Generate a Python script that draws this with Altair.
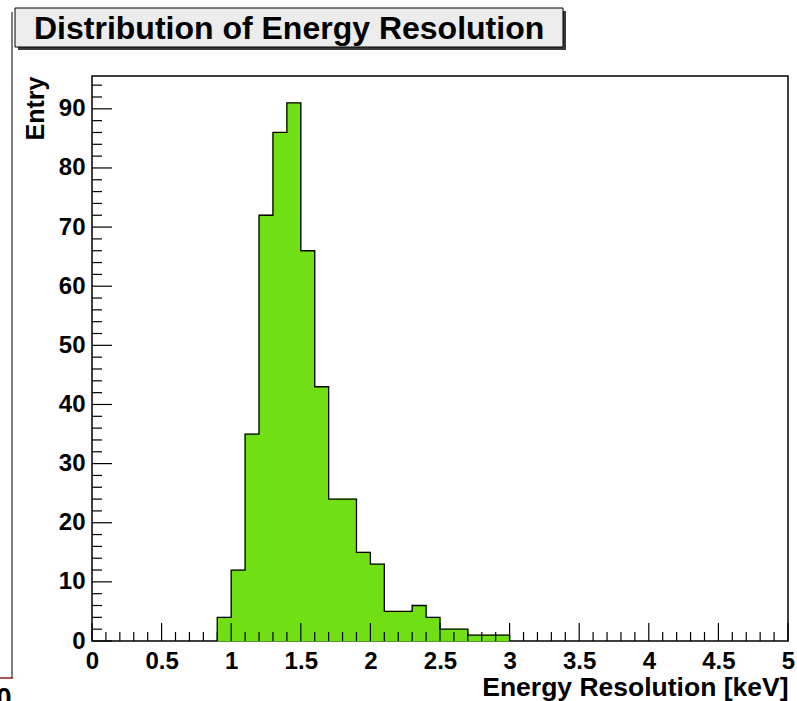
import altair as alt
import pandas as pd

# Histogram of energy resolution, 0.1 keV bins from 0.9 to 3.0 keV
bin_low = [0.9, 1.0, 1.1, 1.2, 1.3, 1.4, 1.5, 1.6, 1.7, 1.8, 1.9,
           2.0, 2.1, 2.2, 2.3, 2.4, 2.5, 2.6, 2.7, 2.8, 2.9]
entries = [4, 12, 35, 72, 86, 91, 66, 43, 24, 24, 15,
           13, 5, 5, 6, 4, 2, 2, 1, 1, 1]
bin_width = 0.1

x_labels = [0, 0.5, 1, 1.5, 2, 2.5, 3, 3.5, 4, 4.5, 5]
y_labels = [0, 10, 20, 30, 40, 50, 60, 70, 80, 90]
x_minor = [round(i * 0.1, 1) for i in range(51)]
y_minor = [i * 2 for i in range(48)]

Y_MAX = 95.55
W, H = 696, 565
FONT = "Liberation Sans"
GREEN = "#70e014"

bars = pd.DataFrame({
    "lo": bin_low,
    "hi": [round(b + bin_width, 1) for b in bin_low],
    "n": entries,
})

# outline of the histogram as one step line
edge_x = [bin_low[0]] + bin_low + [round(bin_low[-1] + bin_width, 1)]
edge_y = [0] + entries + [0]
outline = pd.DataFrame({"x": edge_x, "y": edge_y, "k": list(range(len(edge_x)))})

xs = alt.Scale(domain=[0, 5], nice=False, zero=False, padding=0)
ys = alt.Scale(domain=[0, Y_MAX], nice=False, padding=0)

x_axis = alt.Axis(
    values=x_labels, format="~g", grid=False, domain=False, ticks=False, tickSize=0,
    labelFont=FONT, labelFontWeight="bold", labelFontSize=24, labelColor="black",
    labelPadding=8, labelFlush=False, labelOverlap=False,
    title="Energy Resolution [keV]", titleFont=FONT, titleFontWeight="bold",
    titleFontSize=26.5, titleColor="black", titleAlign="right", titleX=W,
    titleY=54, titleBaseline="alphabetic", titleAnchor="end",
)
y_axis = alt.Axis(
    values=y_labels, grid=False, domain=False, ticks=False, tickSize=0,
    labelFont=FONT, labelFontWeight="bold", labelFontSize=24, labelColor="black",
    labelPadding=7, labelFlush=False, labelOverlap=False,
    title="Entry", titleFont=FONT, titleFontWeight="bold", titleFontSize=25,
    titleColor="black", titleAngle=270, titleAlign="right", titleX=-49,
    titleY=0, titleBaseline="alphabetic", titleAnchor="end",
)

hist = alt.Chart(bars).mark_bar(
    color=GREEN, stroke=GREEN, strokeWidth=1, orient="vertical"
).encode(
    x=alt.X("lo:Q", scale=xs, axis=x_axis),
    x2="hi:Q",
    y=alt.Y("n:Q", scale=ys, axis=y_axis),
    y2=alt.datum(0),
)

line = alt.Chart(outline).mark_line(
    interpolate="step-after", color="black", strokeWidth=1.3
).encode(
    x=alt.X("x:Q", scale=xs),
    y=alt.Y("y:Q", scale=ys),
    order="k:Q",
)

# inward ticks along the bottom and left edges of the frame
x_major_df = pd.DataFrame({"v": x_labels})
x_minor_df = pd.DataFrame({"v": [v for v in x_minor if round(v * 2, 6) % 1 != 0]})
y_major_df = pd.DataFrame({"v": y_labels})
y_minor_df = pd.DataFrame({"v": [v for v in y_minor if v % 10 != 0]})

tick_style = dict(color="black", strokeWidth=1.2)
xt_major = alt.Chart(x_major_df).mark_rule(**tick_style).encode(
    x=alt.X("v:Q", scale=xs), y=alt.value(H), y2=alt.value(H - 18))
xt_minor = alt.Chart(x_minor_df).mark_rule(**tick_style).encode(
    x=alt.X("v:Q", scale=xs), y=alt.value(H), y2=alt.value(H - 9))
yt_major = alt.Chart(y_major_df).mark_rule(**tick_style).encode(
    y=alt.Y("v:Q", scale=ys), x=alt.value(0), x2=alt.value(20))
yt_minor = alt.Chart(y_minor_df).mark_rule(**tick_style).encode(
    y=alt.Y("v:Q", scale=ys), x=alt.value(0), x2=alt.value(10))

one = pd.DataFrame({"d": [0]})

# title box with drop shadow
title_shadow = alt.Chart(one).mark_rect(color="#3a3a3a").encode(
    x=alt.value(-74), x2=alt.value(474), y=alt.value(-65), y2=alt.value(-26))
title_box = alt.Chart(one).mark_rect(
    fill="#ececec", stroke="black", strokeWidth=1).encode(
    x=alt.value(-77), x2=alt.value(471), y=alt.value(-68), y2=alt.value(-29))
title_text = alt.Chart(one).mark_text(
    text="Distribution of Energy Resolution", font=FONT, fontWeight="bold",
    fontSize=32, align="left", baseline="alphabetic", color="black").encode(
    x=alt.value(-58), y=alt.value(-37))

# edge of the neighbouring pad on the left
pad_edge = alt.Chart(one).mark_rule(color="#555555", strokeWidth=1.5).encode(
    x=alt.value(-80), y=alt.value(-64), y2=alt.value(602))
pad_base = alt.Chart(one).mark_rule(color="#8b1a1a", strokeWidth=1.5).encode(
    x=alt.value(-95), x2=alt.value(-79), y=alt.value(602))
pad_label = alt.Chart(one).mark_text(
    text="0", font=FONT, fontWeight="bold", fontSize=27, align="center",
    baseline="alphabetic", color="black").encode(
    x=alt.value(-88), y=alt.value(631))

chart = alt.layer(
    hist, line, xt_major, xt_minor, yt_major, yt_minor,
    title_shadow, title_box, title_text, pad_edge, pad_base, pad_label,
).properties(
    width=W, height=H,
    autosize=alt.AutoSizeParams(type="none"),
    padding={"left": 92, "top": 76, "right": 9, "bottom": 60},
    background="white",
).configure_view(
    stroke="black", strokeWidth=1.5,
)

chart.save("out.html", embed_options={"renderer": "svg", "actions": False})
